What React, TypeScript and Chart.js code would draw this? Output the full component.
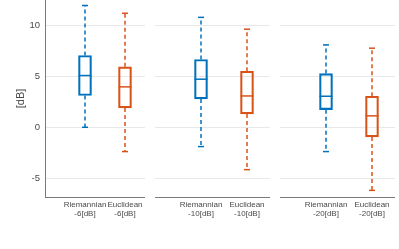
import React, { useEffect, useRef } from "react";
import { Chart, registerables } from "chart.js";

Chart.register(...registerables);

const methods = ["Riemannian", "Euclidean"];
const snrLabels = ["-6[dB]", "-10[dB]", "-20[dB]"];
const colors = ["#0072BD", "#D95319"];

// per panel: [Riemannian, Euclidean]
const whiskerMin = [
  [0.03, -2.35],
  [-1.86, -4.12],
  [-2.35, -6.15],
];
const q1 = [
  [3.14, 1.93],
  [2.81, 1.34],
  [1.76, -0.91],
];
const median = [
  [5.1, 3.99],
  [4.74, 3.1],
  [3.07, 1.15],
];
const q3 = [
  [7.06, 5.95],
  [6.67, 5.52],
  [5.29, 3.07],
];
const whiskerMax = [
  [11.96, 11.2],
  [10.8, 9.64],
  [8.1, 7.78],
];
const yTicks = [-5, 0, 5, 10];

const Y_MIN = -6.8;
const Y_MAX = 12.5;

function Panel({ idx, left, width, showY }: { idx: number; left: number; width: number; showY: boolean }) {
  const ref = useRef<HTMLCanvasElement>(null);
  useEffect(() => {
    if (!ref.current) return;
    const pos = [1, 2];
    const datasets: any[] = [];
    datasets.push({
      type: "bar",
      data: pos.map((x, i) => ({ x, y: [q1[idx][i], q3[idx][i]] })),
      backgroundColor: "rgba(0,0,0,0)",
      borderColor: colors,
      borderWidth: 1.5,
      borderSkipped: false,
      barThickness: 13,
      order: 3,
    });
    pos.forEach((x, i) => {
      datasets.push({
        type: "line",
        data: [
          { x, y: q3[idx][i] },
          { x, y: whiskerMax[idx][i] },
          { x, y: null },
          { x, y: q1[idx][i] },
          { x, y: whiskerMin[idx][i] },
        ],
        borderColor: colors[i],
        borderWidth: 1.5,
        borderDash: [4, 3],
        pointRadius: 0,
        spanGaps: false,
        order: 2,
      });
    });
    datasets.push({
      type: "scatter",
      data: pos.map((x, i) => ({ x, y: median[idx][i] })),
      pointStyle: "line",
      pointRadius: 6.5,
      pointBorderColor: colors,
      pointBorderWidth: 1.5,
      order: 1,
    });
    datasets.push({
      type: "scatter",
      data: [
        ...pos.map((x, i) => ({ x, y: whiskerMax[idx][i] })),
        ...pos.map((x, i) => ({ x, y: whiskerMin[idx][i] })),
      ],
      pointStyle: "line",
      pointRadius: 3,
      pointBorderColor: [...colors, ...colors],
      pointBorderWidth: 1.5,
      order: 1,
    });

    const chart = new Chart(ref.current, {
      type: "bar",
      data: { datasets },
      options: {
        animation: false,
        responsive: false,
        maintainAspectRatio: false,
        layout: { padding: 0, autoPadding: false },
        plugins: { legend: { display: false }, tooltip: { enabled: false } },
        scales: {
          x: {
            type: "linear",
            min: 0,
            max: 2.5,
            offset: false,
            afterBuildTicks: (s: any) => {
              s.ticks = [{ value: 1 }, { value: 2 }];
            },
            afterFit: (s: any) => {
              s.height = 52;
              s.paddingLeft = 0;
              s.paddingRight = 0;
            },
            ticks: {
              autoSkip: false,
              maxRotation: 0,
              minRotation: 0,
              padding: 3,
              color: "#4a4a4a",
              font: { family: "'Liberation Sans', Arial, sans-serif", size: 8, lineHeight: 1.15 },
              callback: (v: any) => {
                const i = Number(v) - 1;
                return [methods[i], snrLabels[idx]];
              },
            },
            grid: { display: false, drawTicks: false },
            border: { display: true, color: "#7a7a7a", width: 1 },
          },
          y: {
            type: "linear",
            min: Y_MIN,
            max: Y_MAX,
            afterBuildTicks: (s: any) => {
              s.ticks = yTicks.map((value) => ({ value }));
            },
            afterFit: (s: any) => {
              s.width = showY ? 45 : 0;
              s.paddingTop = 0;
              s.paddingBottom = 0;
            },
            ticks: {
              display: showY,
              padding: 5,
              color: "#4a4a4a",
              font: { family: "'Liberation Sans', Arial, sans-serif", size: 9.5 },
            },
            grid: { color: "#e8e8e8", lineWidth: 1, drawTicks: false },
            border: { display: showY, color: "#7a7a7a", width: 1 },
            title: {
              display: showY,
              text: "[dB]",
              color: "#4a4a4a",
              padding: { top: 14, bottom: 0 },
              font: { family: "'Liberation Sans', Arial, sans-serif", size: 11 },
            },
          },
        },
      },
    });
    return () => chart.destroy();
  }, [idx, showY]);
  return (
    <div style={{ position: "absolute", left, top: 0, width, height: 249 }}>
      <canvas ref={ref} width={width} height={249} style={{ width, height: 249, display: "block" }} />
    </div>
  );
}

export default function App() {
  return (
    <div style={{ position: "fixed", left: 0, top: 0, width: 399, height: 249, background: "#ffffff" }}>
      <Panel idx={0} left={0} width={145} showY={true} />
      <Panel idx={1} left={155} width={115} showY={false} />
      <Panel idx={2} left={280} width={115} showY={false} />
    </div>
  );
}
